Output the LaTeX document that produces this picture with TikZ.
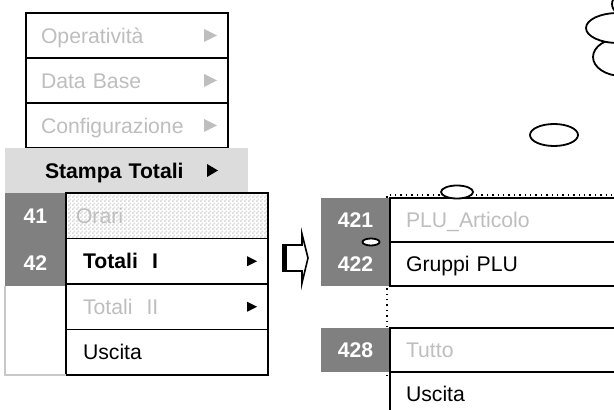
\documentclass[tikz,border=0pt]{standalone}
\usepackage{fontspec}
\setmainfont{Liberation Sans}
\usetikzlibrary{positioning,calc,patterns}
\definecolor{bandgrey}{HTML}{DCDCDC}
\definecolor{cellgrey}{HTML}{808080}
\definecolor{dimtext}{HTML}{BEBEBE}
\definecolor{edgegrey}{HTML}{C8C8C8}
\definecolor{checkgrey}{HTML}{D9D9D9}
\pgfdeclarepatternformonly{finechecker}{\pgfpointorigin}{\pgfqpoint{2pt}{2pt}}{\pgfqpoint{2pt}{2pt}}{%
  \pgfpathrectangle{\pgfpointorigin}{\pgfqpoint{1pt}{1pt}}%
  \pgfpathrectangle{\pgfqpoint{1pt}{1pt}}{\pgfqpoint{1pt}{1pt}}%
  \pgfusepath{fill}}

\begin{document}
\begin{tikzpicture}[
      x=0.5pt, y=-0.5pt,
      node distance=0pt,
      font=\fontsize{10.6}{12}\selectfont,
      row/.style={draw, line width=0.9pt, fill=white, outer sep=0pt, anchor=north west, align=left, text height=7.6pt, text depth=0pt},
      menu/.style={row, inner xsep=7.5pt, text width=86pt, minimum height=22.5pt, text=dimtext},
      sub/.style={row, inner xsep=8.5pt, text width=84pt, minimum height=22.75pt},
      plu/.style={row, inner xsep=8pt, text width=109pt, minimum height=22pt},
      cell/.style={fill=cellgrey, text=white, font=\fontsize{10.6}{12}\selectfont\bfseries, outer sep=0pt, inner sep=0pt, anchor=north west, text height=7.6pt, text depth=0pt},
      oval/.style={draw, fill=white, line width=0.9pt},
    ]
    \useasboundingbox (0,0) rectangle (614,410);
    \clip (0,0) rectangle (614,410);
    % main menu
    \node[menu] (oper) at (26,13) {Operatività};
    \node[menu, below=of oper] (dbase) {Data Base};
    \node[menu, below=of dbase] (config) {Configurazione};
    \foreach \r in {oper,dbase,config}
      \fill[dimtext] ($(\r.east)+(-24,-6.5)$) -- ++(13,6.5) -- ++(-13,6.5) -- cycle;
    % selected entry
    \node[fill=bandgrey, outer sep=0pt, anchor=north west, align=left, inner xsep=20pt, text width=81.5pt, minimum height=22.5pt, text height=7.6pt, text depth=0pt, font=\fontsize{10.6}{12}\selectfont\bfseries] (stampa) at (5,148) {Stampa Totali};
    \fill ($(stampa.east)+(-41,-6.5)$) -- ++(11,6.5) -- ++(-11,6.5) -- cycle;
    \node[cell, minimum width=30.5pt, minimum height=23.25pt] (c41) at (5,193) {41};
    \node[cell, minimum width=30.5pt, minimum height=23.25pt, below=of c41] (c42) {42};
    % submenu
    \node[sub, inner xsep=5pt, text width=91pt, pattern=finechecker, pattern color=checkgrey, text=dimtext] (orari) at (66,193) {Orari};
    \node[sub, below=of orari, font=\fontsize{10.6}{12}\selectfont\bfseries] (tot1) {Totali\ \ I};
    \node[sub, below=of tot1, text=dimtext] (tot2) {Totali\ \ II};
    \node[sub, below=of tot2] (usc) {Uscita};
    \draw[edgegrey, line width=0.9pt] (c42.south west) |- (usc.south west);
    \foreach \r in {tot1,tot2}
      \fill ($(\r.east)+(-21,-5)$) -- ++(10,5) -- ++(-10,5) -- cycle;
    % arrow
    \draw[line width=0.8pt, line join=miter] (302,245) -- (283,245) -- (283,271) -- (302,271) -- (302,283) -- (308,258) -- (302,234) -- cycle;
    \draw[line width=2pt] (285,245) -- (285,271);
    % second submenu
    \draw[dotted, line width=0.7pt] (387,376) -- (387,195) -- (640,195);
    \node[cell, minimum width=34.5pt, minimum height=22pt] (c421) at (321,198) {421};
    \node[cell, minimum width=34.5pt, minimum height=22pt, below=of c421] (c422) {422};
    \node[cell, minimum width=34.5pt, minimum height=22pt] (c428) at (321,328) {428};
    \node[plu, right=of c421, text=dimtext] (plu) {PLU\_Articolo};
    \node[plu, right=of c422] (gruppi) {Gruppi PLU};
    \node[plu, right=of c428, text=dimtext] (tutto) {Tutto};
    \node[plu, below=of tutto] (usc2) {Uscita};
    % ovals
    \draw[oval] (457,192) ellipse [x radius=16, y radius=6.5];
    \draw[oval] (371,242) ellipse [x radius=8.5, y radius=3.5];
    \draw[oval] (554,135) ellipse [x radius=24, y radius=11];
    \draw[oval] (622,57) ellipse [x radius=29, y radius=19];
    \draw[oval] (630,4) ellipse [x radius=18, y radius=13];
    \draw[oval] (618,28) ellipse [x radius=32, y radius=15];
  \end{tikzpicture}
\end{document}
